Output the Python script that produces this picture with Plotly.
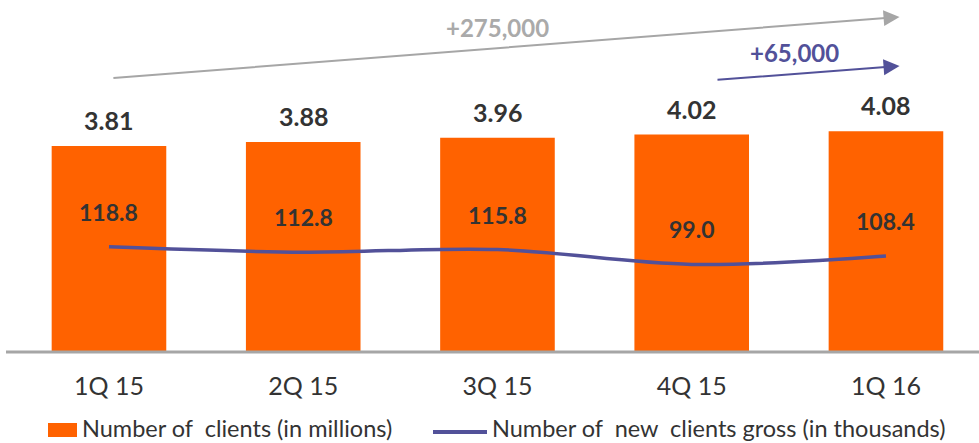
import plotly.graph_objects as go

# Quarterly client figures
quarters = ["1Q 15", "2Q 15", "3Q 15", "4Q 15", "1Q 16"]
clients_millions = [3.81, 3.88, 3.96, 4.02, 4.08]
new_clients_thousands = [118.8, 112.8, 115.8, 99.0, 108.4]

ORANGE = "#FF6200"
PURPLE = "#525199"
TEXT = "#333333"
GREY = "#A6A6A6"
FONT = "Lato, Liberation Sans, Arial, sans-serif"

W, H = 979, 443
PLOT_H = 352  # pixel height of the plotting area

fig = go.Figure()

fig.add_trace(go.Bar(
    x=quarters, y=clients_millions, marker=dict(color=ORANGE, line=dict(width=0)),
    width=0.59, name="Number of  clients (in millions)", showlegend=False,
    hoverinfo="skip",
))

fig.add_trace(go.Scatter(
    x=quarters, y=new_clients_thousands, yaxis="y2", mode="lines",
    line=dict(color=PURPLE, width=3.5, shape="spline", smoothing=1.0),
    name="Number of  new  clients gross (in thousands)", showlegend=False,
    hoverinfo="skip",
))

annotations = []
# Values above each bar
for q, v in zip(quarters, clients_millions):
    annotations.append(dict(
        x=q, y=v, xref="x", yref="y", text=f"{v:.2f}", showarrow=False,
        yanchor="middle", yshift=26,
        font=dict(family=FONT, size=25, color=TEXT, weight="bold"),
    ))
# Values above the line
for q, v in zip(quarters, new_clients_thousands):
    annotations.append(dict(
        x=q, y=v, xref="x", yref="y2", text=f"{v:.1f}", showarrow=False,
        yanchor="middle", yshift=35,
        font=dict(family=FONT, size=23, color=TEXT, weight="bold"),
    ))

# Growth arrows
annotations += [
    dict(x=4.07, y=0.952, xref="x", yref="y domain", ax=0.015, ay=0.778,
         axref="x", ayref="y domain", text="", showarrow=True,
         arrowhead=2, arrowsize=1.6, arrowwidth=2, arrowcolor=GREY, standoff=0),
    dict(x=2.0, y=0.923, xref="x", yref="paper", yanchor="middle",
         text="+275,000", showarrow=False,
         font=dict(family=FONT, size=24, color="#AAAAAA", weight="bold")),
    dict(x=4.07, y=0.8125, xref="x", yref="y domain", ax=3.125, ay=0.773,
         axref="x", ayref="y domain", text="", showarrow=True,
         arrowhead=2, arrowsize=1.6, arrowwidth=2, arrowcolor=PURPLE, standoff=0),
    dict(x=3.53, y=0.852, xref="x", yref="paper", yanchor="middle",
         text="+65,000", showarrow=False,
         font=dict(family=FONT, size=24, color=PURPLE, weight="bold")),
]

# Legend drawn below the axis
def py(pix):
    return (PLOT_H - pix) / PLOT_H

annotations += [
    dict(x=80 / W, y=py(428), xref="paper", yref="paper", xanchor="left",
         yanchor="middle", text="Number of\u00a0 clients (in millions)", showarrow=False,
         font=dict(family=FONT, size=23.5, color=TEXT)),
    dict(x=490 / W, y=py(428), xref="paper", yref="paper", xanchor="left",
         yanchor="middle", text="Number of\u00a0 new\u00a0 clients gross (in thousands)",
         showarrow=False, font=dict(family=FONT, size=23.5, color=TEXT)),
]
shapes = [
    dict(type="rect", xref="paper", yref="paper", x0=48 / W, x1=77 / W,
         y0=py(437), y1=py(423), fillcolor=ORANGE, line=dict(width=0)),
    dict(type="line", xref="paper", yref="paper", x0=433 / W, x1=487 / W,
         y0=py(432), y1=py(432), line=dict(color=PURPLE, width=4)),
    # baseline
    dict(type="line", xref="paper", yref="paper", x0=6 / W, x1=1,
         y0=0, y1=0, line=dict(color=GREY, width=3)),
]

fig.update_layout(
    width=W, height=H,
    margin=dict(l=0, r=0, t=0, b=H - PLOT_H),
    paper_bgcolor="white", plot_bgcolor="white",
    showlegend=False,
    xaxis=dict(range=[-0.561, 4.479], showgrid=False, zeroline=False,
               showline=False, ticks="", ticklabelstandoff=17,
               tickfont=dict(family=FONT, size=25, color=TEXT)),
    yaxis=dict(range=[0, PLOT_H / 54.1], visible=False, showgrid=False),
    yaxis2=dict(range=[0, PLOT_H / 0.885], overlaying="y", visible=False,
                showgrid=False),
    annotations=annotations, shapes=shapes,
)

fig.write_html("out.html")
